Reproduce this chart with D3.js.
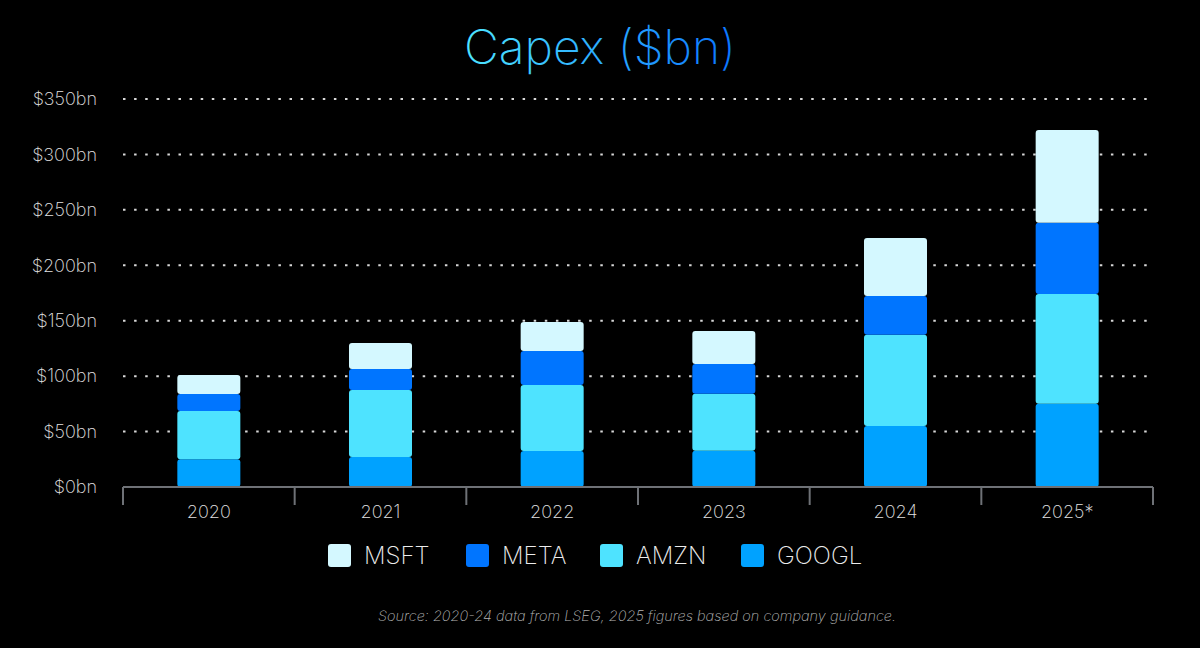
<!DOCTYPE html>
<html>
<head>
<meta charset="utf-8">
<script src="https://cdn.jsdelivr.net/npm/d3@7"></script>
<style>
  html, body { margin: 0; padding: 0; background: #000; }
  svg { display: block; font-family: Inter, "Open Sans", sans-serif; }
</style>
</head>
<body>
<svg id="chart" width="1200" height="648"></svg>
<script>
// ---- data ----
const years = ["2020", "2021", "2022", "2023", "2024", "2025*"];
const seriesNames = ["GOOGL", "AMZN", "META", "MSFT"]; // bottom -> top
const GOOGL = [25.0, 27.1, 32.5, 32.7, 55.0, 75.1];
const AMZN  = [43.6, 60.4, 59.5, 51.5, 82.4, 99.0];
const META  = [15.3, 18.9, 30.7, 26.8, 34.9, 64.3];
const MSFT  = [17.1, 23.5, 26.1, 29.7, 52.3, 83.6];
const yTicks = [0, 50, 100, 150, 200, 250, 300, 350];
const legendOrder = ["MSFT", "META", "AMZN", "GOOGL"];
const colors = { MSFT: "#d4f8ff", META: "#0075ff", AMZN: "#4ee3ff", GOOGL: "#00a2ff" };

const seriesValues = { GOOGL, AMZN, META, MSFT };
const rows = years.map((y, i) => {
  const r = { year: y };
  seriesNames.forEach(s => r[s] = seriesValues[s][i]);
  return r;
});

const svg = d3.select("#chart");

// gradient for title
const defs = svg.append("defs");
const grad = defs.append("linearGradient").attr("id", "tg")
  .attr("x1", "0%").attr("x2", "100%").attr("y1", "0").attr("y2", "0");
grad.append("stop").attr("offset", "0%").attr("stop-color", "#4ee6ff");
grad.append("stop").attr("offset", "100%").attr("stop-color", "#0a74ff");

svg.append("text")
  .attr("x", 600).attr("y", 64)
  .attr("text-anchor", "middle")
  .attr("font-size", 48).attr("font-weight", 200)
  .attr("fill", "url(#tg)")
  .text("Capex ($bn)");

const left = 123, right = 1153;
const y = d3.scaleLinear().domain([0, 350]).range([487, 99]);
const x = d3.scaleBand().domain(years).range([left, right]).paddingInner(0.633).paddingOuter(0.3165);
const slots = d3.scaleBand().domain(years).range([left, right]).padding(0);

// gridlines
svg.append("g").selectAll("line")
  .data(yTicks.filter(d => d > 0))
  .join("line")
  .attr("x1", left).attr("x2", right)
  .attr("y1", d => y(d)).attr("y2", d => y(d))
  .attr("stroke", "#d8d8d8").attr("stroke-width", 2)
  .attr("stroke-dasharray", "2.5 8.6");

// y labels
svg.append("g").selectAll("text")
  .data(yTicks)
  .join("text")
  .attr("x", 97).attr("y", d => y(d))
  .attr("dy", "0.35em")
  .attr("text-anchor", "end")
  .attr("font-size", 18).attr("font-weight", 250)
  .attr("fill", "#e2e2e2")
  .text(d => "$" + d + "bn");

// stacked bars
const stack = d3.stack().keys(seriesNames)(rows);
svg.append("g").selectAll("g")
  .data(stack)
  .join("g")
  .attr("fill", d => colors[d.key])
  .selectAll("rect")
  .data(d => d)
  .join("rect")
  .attr("x", d => x(d.data.year))
  .attr("width", x.bandwidth())
  .attr("y", d => y(d[1]))
  .attr("height", d => y(d[0]) - y(d[1]))
  .attr("rx", 3).attr("ry", 3);

// x axis
const axisG = svg.append("g");
axisG.append("line")
  .attr("x1", left).attr("x2", right)
  .attr("y1", y(0)).attr("y2", y(0))
  .attr("stroke", "#6e7176").attr("stroke-width", 2);
const tickXs = years.map(d => slots(d)).concat([slots(years[years.length - 1]) + slots.bandwidth()]);
axisG.selectAll("line.tick")
  .data(tickXs)
  .join("line")
  .attr("class", "tick")
  .attr("x1", d => d).attr("x2", d => d)
  .attr("y1", y(0)).attr("y2", y(0) + 18)
  .attr("stroke", "#6e7176").attr("stroke-width", 2);
axisG.selectAll("text")
  .data(years)
  .join("text")
  .attr("x", d => slots(d) + slots.bandwidth() / 2)
  .attr("y", y(0) + 31)
  .attr("text-anchor", "middle")
  .attr("font-size", 18).attr("font-weight", 250)
  .attr("fill", "#e2e2e2")
  .text(d => d);

// legend
const legendX = [328, 466, 600, 741];
const lg = svg.append("g").selectAll("g")
  .data(legendOrder)
  .join("g")
  .attr("transform", (d, i) => `translate(${legendX[i]},544)`);
lg.append("rect")
  .attr("width", 23).attr("height", 23).attr("rx", 3)
  .attr("fill", d => colors[d]);
lg.append("text")
  .attr("x", 36).attr("y", 20)
  .attr("font-size", 24).attr("font-weight", 250)
  .attr("fill", "#ececec")
  .text(d => d);

// source
svg.append("text")
  .attr("x", 637).attr("y", 621)
  .attr("text-anchor", "middle")
  .attr("font-size", 14.5).attr("font-style", "italic").attr("font-weight", 250)
  .attr("fill", "#b4b4b4")
  .text("Source: 2020-24 data from LSEG, 2025 figures based on company guidance.");
</script>
</body>
</html>
